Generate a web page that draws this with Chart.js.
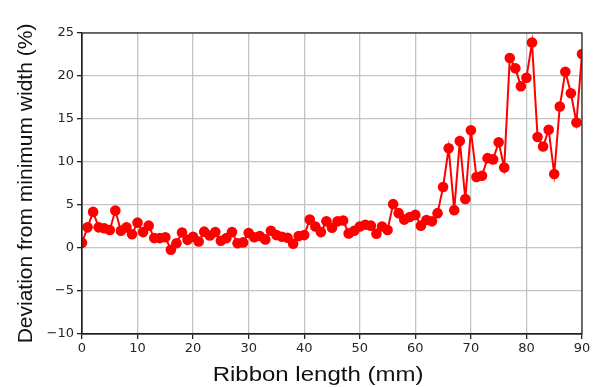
<!DOCTYPE html>
<html>
<head>
<meta charset="utf-8">
<script src="https://cdn.jsdelivr.net/npm/chart.js@4"></script>
<style>
  html, body { margin: 0; padding: 0; background: #fff; }
  #wrap { width: 596px; height: 387px; }
</style>
</head>
<body>
<div id="wrap"><canvas id="lineChart" width="596" height="387"></canvas></div>
<script>
// Ribbon length (mm)
const lengths = [
  0, 1, 2, 3, 4, 5, 6, 7, 8, 9,
  10, 11, 12, 13, 14, 15, 16, 17, 18, 19,
  20, 21, 22, 23, 24, 25, 26, 27, 28, 29,
  30, 31, 32, 33, 34, 35, 36, 37, 38, 39,
  40, 41, 42, 43, 44, 45, 46, 47, 48, 49,
  50, 51, 52, 53, 54, 55, 56, 57, 58, 59,
  60, 61, 62, 63, 64, 65, 66, 67, 68, 69,
  70, 71, 72, 73, 74, 75, 76, 77, 78, 79,
  80, 81, 82, 83, 84, 85, 86, 87, 88, 89,
  90
];

// Deviation from minimum width (%)
const deviation = [
  0.6, 2.4, 4.2, 2.4, 2.3, 2.1, 4.35, 2.0, 2.4, 1.6,
  2.95, 1.85, 2.6, 1.15, 1.15, 1.25, -0.2, 0.55, 1.8, 0.95,
  1.3, 0.75, 1.9, 1.45, 1.85, 0.85, 1.15, 1.85, 0.55, 0.65,
  1.75, 1.25, 1.4, 1.0, 2.0, 1.5, 1.3, 1.2, 0.5, 1.4,
  1.5, 3.3, 2.5, 1.85, 3.1, 2.35, 3.1, 3.2, 1.7, 2.0,
  2.5, 2.7, 2.6, 1.65, 2.5, 2.1, 5.1, 4.05, 3.3, 3.6,
  3.85, 2.6, 3.25, 3.1, 4.05, 7.1, 11.6, 4.4, 12.45, 5.7,
  13.7, 8.25, 8.4, 10.45, 10.3, 12.3, 9.35, 22.1, 20.9, 18.8,
  19.8, 23.9, 12.9, 11.8, 13.75, 8.6, 16.45, 20.5, 18.0, 14.6,
  22.55
];

const xTicks = [0, 10, 20, 30, 40, 50, 60, 70, 80, 90];
const yTicks = [-10, -5, 0, 5, 10, 15, 20, 25];
const xTitle = 'Ribbon length (mm)';
const yTitle = 'Deviation from minimum width (%)';

const TICK_FONT = "'DejaVu Sans', sans-serif";
const TITLE_FONT = "'Liberation Sans', Arial, sans-serif";

// black box round the plot area, like matplotlib spines
const frame = {
  id: 'frame',
  afterDatasetsDraw(chart) {
    const { ctx, chartArea: a } = chart;
    ctx.save();
    ctx.strokeStyle = '#222';
    ctx.lineWidth = 1.2;
    ctx.strokeRect(a.left, a.top, a.right - a.left, a.bottom - a.top);
    ctx.restore();
  }
};

// x axis title: the source figure is a bit stretched sideways and the
// label sits left of the plot centre
const xLabel = {
  id: 'xLabel',
  afterDraw(chart) {
    const ctx = chart.ctx;
    ctx.save();
    ctx.font = '20px ' + TITLE_FONT;
    ctx.fillStyle = '#111';
    ctx.textAlign = 'center';
    ctx.textBaseline = 'alphabetic';
    ctx.translate(318, 381);
    ctx.scale(1.2, 1);
    ctx.fillText(xTitle, 0, 0);
    ctx.restore();
  }
};

new Chart(document.getElementById('lineChart'), {
  type: 'line',
  data: {
    datasets: [{
      label: 'Deviation',
      data: lengths.map((x, i) => ({ x: x, y: deviation[i] })),
      borderColor: '#ff0000',
      backgroundColor: '#ff0000',
      borderWidth: 2,
      pointRadius: 5.3,
      pointHoverRadius: 5.3,
      pointBorderWidth: 0,
      tension: 0,
      clip: 0,
    }],
  },
  options: {
    responsive: false,
    animation: false,
    layout: { padding: { top: 33, right: 14, left: 0, bottom: 0 } },
    plugins: {
      legend: { display: false },
      tooltip: { enabled: false },
    },
    scales: {
      x: {
        type: 'linear',
        min: 0,
        max: 90,
        afterBuildTicks: (s) => { s.ticks = xTicks.map(v => ({ value: v })); },
        afterFit: (s) => { s.height = 53; },
        grid: { color: '#c4c4c4', lineWidth: 1.3, tickLength: 5, tickColor: '#222' },
        border: { color: '#222', width: 1.2 },
        ticks: { color: '#262626', font: { family: TICK_FONT, size: 13 }, padding: 2, maxRotation: 0 },
        title: { display: false },
      },
      y: {
        type: 'linear',
        min: -10,
        max: 25,
        afterBuildTicks: (s) => { s.ticks = yTicks.map(v => ({ value: v })); },
        afterFit: (s) => { s.width = 82; },
        grid: { color: '#c4c4c4', lineWidth: 1.3, tickLength: 5, tickColor: '#222' },
        border: { color: '#222', width: 1.2 },
        ticks: {
          color: '#262626',
          font: { family: TICK_FONT, size: 13 },
          padding: 3,
          callback: (v) => String(v).replace('-', '\u2212'),
        },
        title: {
          display: true,
          text: yTitle,
          color: '#111',
          font: { family: TITLE_FONT, size: 21 },
          padding: { top: 14, bottom: 0 },
        },
      },
    },
  },
  plugins: [frame, xLabel],
});
</script>
</body>
</html>
